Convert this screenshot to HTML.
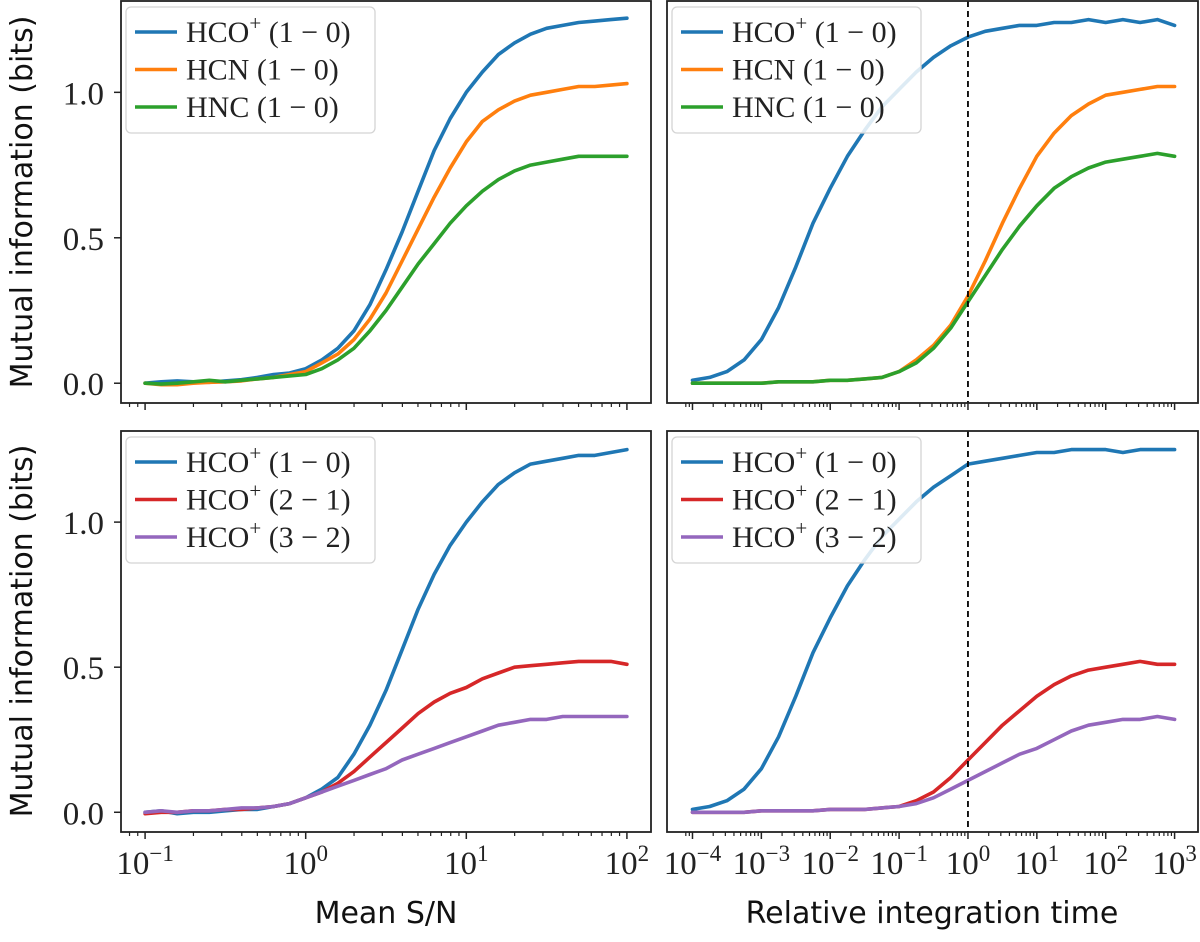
<!DOCTYPE html>
<html><head><meta charset="utf-8"><style>
html,body{margin:0;padding:0;background:#fff;}
svg{display:block;}
.tk{font-family:"Liberation Serif",serif;font-size:33px;fill:#222;}
.lab{font-family:"DejaVu Sans","Liberation Sans",sans-serif;font-size:30px;fill:#111;}
.lg{font-family:"Liberation Serif",serif;font-size:30px;fill:#222;}
</style></head><body>
<svg id="chart" width="1200" height="942" viewBox="0 0 1200 942" xmlns="http://www.w3.org/2000/svg"></svg>
<script>
// ---- data ----
const snLog = [-1,-0.9,-0.8,-0.7,-0.6,-0.5,-0.4,-0.3,-0.2,-0.1,0,0.1,0.2,0.3,0.4,0.5,0.6,0.7,0.8,0.9,1.0,1.1,1.2,1.3,1.4,1.5,1.6,1.7,1.8,1.9,2.0];
const tLog = [-4,-3.75,-3.5,-3.25,-3,-2.75,-2.5,-2.25,-2,-1.75,-1.5,-1.25,-1,-0.75,-0.5,-0.25,0,0.25,0.5,0.75,1,1.25,1.5,1.75,2,2.25,2.5,2.75,3];

const tlHCO10 = [0,0.005,0.008,0.005,0.003,0.008,0.012,0.02,0.03,0.035,0.05,0.08,0.12,0.18,0.27,0.39,0.52,0.66,0.8,0.91,1.0,1.07,1.13,1.17,1.2,1.22,1.23,1.24,1.245,1.25,1.255];
const tlHCN = [0,-0.005,-0.005,0,0.003,0.005,0.008,0.015,0.02,0.03,0.04,0.07,0.1,0.15,0.22,0.31,0.42,0.53,0.64,0.74,0.83,0.9,0.94,0.97,0.99,1.0,1.01,1.02,1.02,1.025,1.03];
const tlHNC = [0,-0.003,0,0.005,0.01,0.005,0.01,0.015,0.02,0.025,0.03,0.05,0.08,0.12,0.18,0.25,0.33,0.41,0.48,0.55,0.61,0.66,0.7,0.73,0.75,0.76,0.77,0.78,0.78,0.78,0.78];

const trHCO10 = [0.01,0.02,0.04,0.08,0.15,0.26,0.40,0.55,0.67,0.78,0.87,0.95,1.01,1.07,1.12,1.16,1.19,1.21,1.22,1.23,1.23,1.24,1.24,1.25,1.24,1.25,1.24,1.25,1.23];
const trHCN = [0,0,0,0,0,0.005,0.005,0.005,0.01,0.01,0.015,0.02,0.04,0.08,0.13,0.2,0.3,0.42,0.55,0.67,0.78,0.86,0.92,0.96,0.99,1.0,1.01,1.02,1.02];
const trHNC = [0,0,0,0,0,0.005,0.005,0.005,0.01,0.01,0.015,0.02,0.04,0.07,0.12,0.19,0.28,0.37,0.46,0.54,0.61,0.67,0.71,0.74,0.76,0.77,0.78,0.79,0.78];

const blHCO10 = [0,0.005,-0.005,0,0,0.005,0.01,0.01,0.02,0.03,0.05,0.08,0.12,0.2,0.3,0.42,0.56,0.7,0.82,0.92,1.0,1.07,1.13,1.17,1.2,1.21,1.22,1.23,1.23,1.24,1.25];
const blHCO21 = [-0.005,0,0,0.005,0.005,0.01,0.01,0.015,0.02,0.03,0.05,0.07,0.1,0.14,0.19,0.24,0.29,0.34,0.38,0.41,0.43,0.46,0.48,0.5,0.505,0.51,0.515,0.52,0.52,0.52,0.51];
const blHCO32 = [0,0.005,0,0.005,0.005,0.01,0.015,0.015,0.02,0.03,0.05,0.07,0.09,0.11,0.13,0.15,0.18,0.2,0.22,0.24,0.26,0.28,0.3,0.31,0.32,0.32,0.33,0.33,0.33,0.33,0.33];

const brHCO10 = [0.01,0.02,0.04,0.08,0.15,0.26,0.40,0.55,0.67,0.78,0.87,0.95,1.01,1.07,1.12,1.16,1.2,1.21,1.22,1.23,1.24,1.24,1.25,1.25,1.25,1.24,1.25,1.25,1.25];
const brHCO21 = [0,0,0,0,0.005,0.005,0.005,0.005,0.01,0.01,0.01,0.015,0.02,0.04,0.07,0.12,0.18,0.24,0.3,0.35,0.4,0.44,0.47,0.49,0.5,0.51,0.52,0.51,0.51];
const brHCO32 = [0,0,0,0,0.005,0.005,0.005,0.005,0.01,0.01,0.01,0.015,0.02,0.03,0.05,0.08,0.11,0.14,0.17,0.2,0.22,0.25,0.28,0.3,0.31,0.32,0.32,0.33,0.32];

const yTicks = [0.0, 0.5, 1.0];
const yTickLabels = ["0.0","0.5","1.0"];
const snDecades = [-1,0,1,2];
const tDecades = [-4,-3,-2,-1,0,1,2,3];

// ---- layout ----
const NS="http://www.w3.org/2000/svg";
const svg=document.getElementById('chart');
function mk(tag,attrs,parent){const e=document.createElementNS(NS,tag);for(const k in attrs)e.setAttribute(k,attrs[k]);(parent||svg).appendChild(e);return e;}
const colors={blue:"#1f77b4",orange:"#ff7f0e",green:"#2ca02c",red:"#d62728",purple:"#9467bd"};
const YMIN=-0.068, YMAX=1.314;

const panels=[
 {name:"top-left",x0:121,x1:651,y0:1,y1:403,lmin:-1.15,lmax:2.15,xs:snLog,dec:snDecades,showX:false,showY:true,vline:false,
  series:[["hco-1-0",tlHCO10,colors.blue],["hcn-1-0",tlHCN,colors.orange],["hnc-1-0",tlHNC,colors.green]],
  legend:[["HCO","+","(1 − 0)"],["HCN","","(1 − 0)"],["HNC","","(1 − 0)"]]},
 {name:"top-right",x0:667,x1:1198,y0:1,y1:403,lmin:-4.37,lmax:3.34,xs:tLog,dec:tDecades,showX:false,showY:false,vline:true,
  series:[["hco-1-0",trHCO10,colors.blue],["hcn-1-0",trHCN,colors.orange],["hnc-1-0",trHNC,colors.green]],
  legend:[["HCO","+","(1 − 0)"],["HCN","","(1 − 0)"],["HNC","","(1 − 0)"]]},
 {name:"bottom-left",x0:121,x1:651,y0:431,y1:832,lmin:-1.15,lmax:2.15,xs:snLog,dec:snDecades,showX:true,showY:true,vline:false,
  series:[["hco-1-0",blHCO10,colors.blue],["hco-2-1",blHCO21,colors.red],["hco-3-2",blHCO32,colors.purple]],
  legend:[["HCO","+","(1 − 0)"],["HCO","+","(2 − 1)"],["HCO","+","(3 − 2)"]]},
 {name:"bottom-right",x0:667,x1:1198,y0:431,y1:832,lmin:-4.37,lmax:3.34,xs:tLog,dec:tDecades,showX:true,showY:false,vline:true,
  series:[["hco-1-0",brHCO10,colors.blue],["hco-2-1",brHCO21,colors.red],["hco-3-2",brHCO32,colors.purple]],
  legend:[["HCO","+","(1 − 0)"],["HCO","+","(2 − 1)"],["HCO","+","(3 − 2)"]]}
];

panels.forEach(p=>{
  const g=mk('g',{});
  
  
  const xs=l=>p.x0+(l-p.lmin)/(p.lmax-p.lmin)*(p.x1-p.x0);
  const ys=v=>p.y1-(v-YMIN)/(YMAX-YMIN)*(p.y1-p.y0);
  p.series.forEach(s=>{
    const d=p.xs.map((l,i)=>(i?'L':'M')+xs(l).toFixed(1)+','+ys(s[1][i]).toFixed(1)).join(' ');
    const path=mk('path',{d:d,fill:'none',stroke:s[2],'stroke-width':3.6,'stroke-linejoin':'round','stroke-linecap':'round'},g);
    
    
  });
  if(p.vline){
    const vl=mk('line',{x1:xs(0),x2:xs(0),y1:p.y0,y2:p.y1,stroke:'#000','stroke-width':1.8,'stroke-dasharray':'6,4'},g);
    
    
  }
  const fr=mk('rect',{x:p.x0,y:p.y0,width:p.x1-p.x0,height:p.y1-p.y0,fill:'none',stroke:'#222','stroke-width':1.8},g);
  
  
  p.dec.forEach((d,i)=>{
    const x=xs(d);
    mk('line',{x1:x,x2:x,y1:p.y1,y2:p.y1+7,stroke:'#222','stroke-width':1.5},g);
    if(i<p.dec.length-1){for(let k=2;k<10;k++){const xm=xs(d+Math.log10(k));mk('line',{x1:xm,x2:xm,y1:p.y1,y2:p.y1+4,stroke:'#222','stroke-width':1.2},g);}}
    if(i===0){for(let k=8;k<10;k++){const xm=xs(d-1+Math.log10(k));if(xm>p.x0)mk('line',{x1:xm,x2:xm,y1:p.y1,y2:p.y1+4,stroke:'#222','stroke-width':1.2},g);}}
    if(p.showX){
      const t=mk('text',{x:x,y:p.y1+42,'text-anchor':'middle',class:'tk'},g);
      
      
      const a=mk('tspan',{},t);a.textContent='10';
      const b=mk('tspan',{dy:-13,'font-size':'23px'},t);b.textContent=(d<0?'−'+(-d):''+d);
    }
  });
  if(p.showY){
    yTicks.forEach((v,i)=>{
      const y=ys(v);
      mk('line',{x1:p.x0-7,x2:p.x0,y1:y,y2:y,stroke:'#222','stroke-width':1.5},g);
      const t=mk('text',{x:p.x0-17,y:y+12,'text-anchor':'end',class:'tk'},g);
      
      
      t.textContent=yTickLabels[i];
    });
  }
  const lg=mk('g',{},g);
  
  
  mk('rect',{x:p.x0+5,y:p.y0+6,width:249,height:126,rx:5,fill:'#fff','fill-opacity':0.85,stroke:'#d4d4d4','stroke-width':1.3},lg);
  p.legend.forEach((e,i)=>{
    const y=p.y0+31+i*37.5;
    const ln=mk('line',{x1:p.x0+14,x2:p.x0+56,y1:y,y2:y,stroke:p.series[i][2],'stroke-width':3.6},lg);
    
    
    const t=mk('text',{x:p.x0+65,y:y+10,class:'lg'},lg);
    
    
    const a=mk('tspan',{},t);a.textContent=e[0];
    if(e[1]){const b=mk('tspan',{dy:-12,'font-size':'21px'},t);b.textContent=e[1];const c=mk('tspan',{dy:12},t);c.textContent=' '+e[2];}
    else{const c=mk('tspan',{},t);c.textContent=' '+e[2];}
  });
});

[202,631].forEach(c=>{
  const t=mk('text',{x:0,y:0,'text-anchor':'middle',class:'lab',transform:'translate(32,'+c+') rotate(-90)'});
  
  
  t.textContent='Mutual information (bits)';
});
const xl1=mk('text',{x:386,y:923,'text-anchor':'middle',class:'lab'});


xl1.textContent='Mean S/N';
const xl2=mk('text',{x:932,y:923,'text-anchor':'middle',class:'lab'});


xl2.textContent='Relative integration time';
</script>
</body></html>
